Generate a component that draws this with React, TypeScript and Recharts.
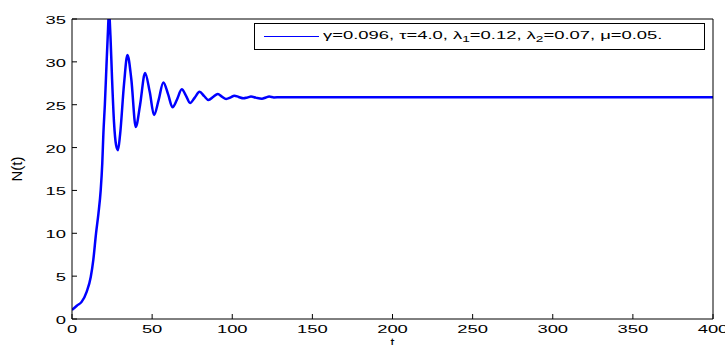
import { LineChart, Line, XAxis, YAxis } from 'recharts';

// time points (t) and population N(t)
const tValues = [
  0, 3, 6, 9.2, 11.7, 13.3, 15, 16.5, 17.9, 18.9, 19.6, 20.5, 21.5, 22.3, 23.1, 24, 25, 26.2, 27.5,
  28.7, 30, 32.5, 34.6, 37, 39.8, 42.5, 45.6, 48.5, 51.2, 54, 57, 60, 62.7,
  65.5, 68.5, 71, 73.7, 76.5, 79.6, 82.5, 85.2, 88, 91, 93.5, 96.2, 99, 101.3,
  104, 107, 109.5, 111.7, 115, 118.5, 121, 123, 126, 130, 400,
];
const nValues = [
  1.05, 1.55, 2.0, 3.2, 4.9, 6.9, 10, 12.3, 15, 18.2, 21.7, 25, 29.5, 33, 35.8, 33, 28, 23, 20.3,
  19.7, 21.5, 27.5, 30.8, 28, 22.4, 25, 28.7, 26.5, 23.8, 25.5, 27.6, 26.2, 24.7,
  25.6, 26.8, 26.1, 25.2, 25.8, 26.5, 26.0, 25.55, 25.9, 26.25, 25.95, 25.67, 25.85, 26.05,
  25.9, 25.75, 25.85, 25.95, 25.8, 25.7, 25.85, 25.95, 25.85, 25.87, 25.87,
];
const xTicks = [0, 50, 100, 150, 200, 250, 300, 350, 400];
const yTicks = [0, 5, 10, 15, 20, 25, 30, 35];

const data = tValues.map((t, i) => ({ t, N: nValues[i] }));

const FONT = '"Liberation Sans", Arial, Helvetica, sans-serif';

const XTick = ({ x, y, payload }: any) => (
  <g transform={`translate(${x},${y})`}>
    <text transform="scale(1.6,1)" textAnchor="middle" dy={14} fontSize={11.5} fill="#000" fontFamily={FONT}>
      {payload.value}
    </text>
  </g>
);

const YTick = ({ x, y, payload }: any) => (
  <g transform={`translate(${x},${y})`}>
    <text transform="scale(1.6,1)" textAnchor="end" dy={5} fontSize={11.5} fill="#000" fontFamily={FONT}>
      {payload.value}
    </text>
  </g>
);

export default function App() {
  return (
    <div style={{ position: 'absolute', left: 0, top: 0, width: 725, height: 345, background: '#fff' }}>
      <LineChart width={725} height={345} data={data} margin={{ top: 18, right: 11, left: 0, bottom: 0 }}>
        <XAxis
          dataKey="t"
          type="number"
          domain={[0, 400]}
          ticks={xTicks}
          allowDataOverflow
          height={26}
          stroke="#000"
          tickSize={-5}
          tickMargin={5}
          tick={<XTick />}
          label={{ value: 't', position: 'insideBottom', offset: -3, fontSize: 14, fill: '#000', fontFamily: FONT }}
        />
        <XAxis xAxisId="top" orientation="top" dataKey="t" type="number" domain={[0, 400]} ticks={xTicks}
          allowDataOverflow height={1} stroke="#000" tickSize={-5} tick={false} />
        <YAxis
          type="number"
          domain={[0, 35]}
          ticks={yTicks}
          allowDataOverflow
          width={72}
          stroke="#000"
          tickSize={-5}
          tickMargin={11}
          tick={<YTick />}
          label={{
            content: () => (
              <text x={22} y={169} transform="rotate(-90 22 169)" textAnchor="middle" fontSize={15}
                fill="#000" fontFamily={FONT}>N(t)</text>
            ),
          }}
        />
        <YAxis yAxisId="right" orientation="right" type="number" domain={[0, 35]} ticks={yTicks}
          allowDataOverflow width={1} stroke="#000" tickSize={-5} tick={false} />
        {/* invisible series so the box axes on top/right get their scales */}
        <Line xAxisId="top" yAxisId="right" dataKey="N" stroke="none" dot={false} isAnimationActive={false} />
        <Line
          type="monotone"
          dataKey="N"
          stroke="#0000ff"
          strokeWidth={2.5}
          dot={false}
          isAnimationActive={false}
        />
      </LineChart>
      <div style={{
        position: 'absolute', left: 254, top: 23, width: 451, height: 27, boxSizing: 'border-box',
        border: '1px solid #000', background: '#fff', display: 'flex', alignItems: 'center',
        fontFamily: FONT, fontSize: 11.5, color: '#000', whiteSpace: 'nowrap',
      }}>
        <div style={{ marginLeft: 9, width: 55, height: 0, borderTop: '1.5px solid #0000ff' }} />
        <span style={{ display: 'inline-block', marginLeft: 4, transform: 'scaleX(1.6)', transformOrigin: 'left center' }}>
          γ=0.096, τ=4.0, λ<sub style={{ fontSize: 8.5 }}>1</sub>=0.12, λ<sub style={{ fontSize: 8.5 }}>2</sub>=0.07, μ=0.05.
        </span>
      </div>
    </div>
  );
}
